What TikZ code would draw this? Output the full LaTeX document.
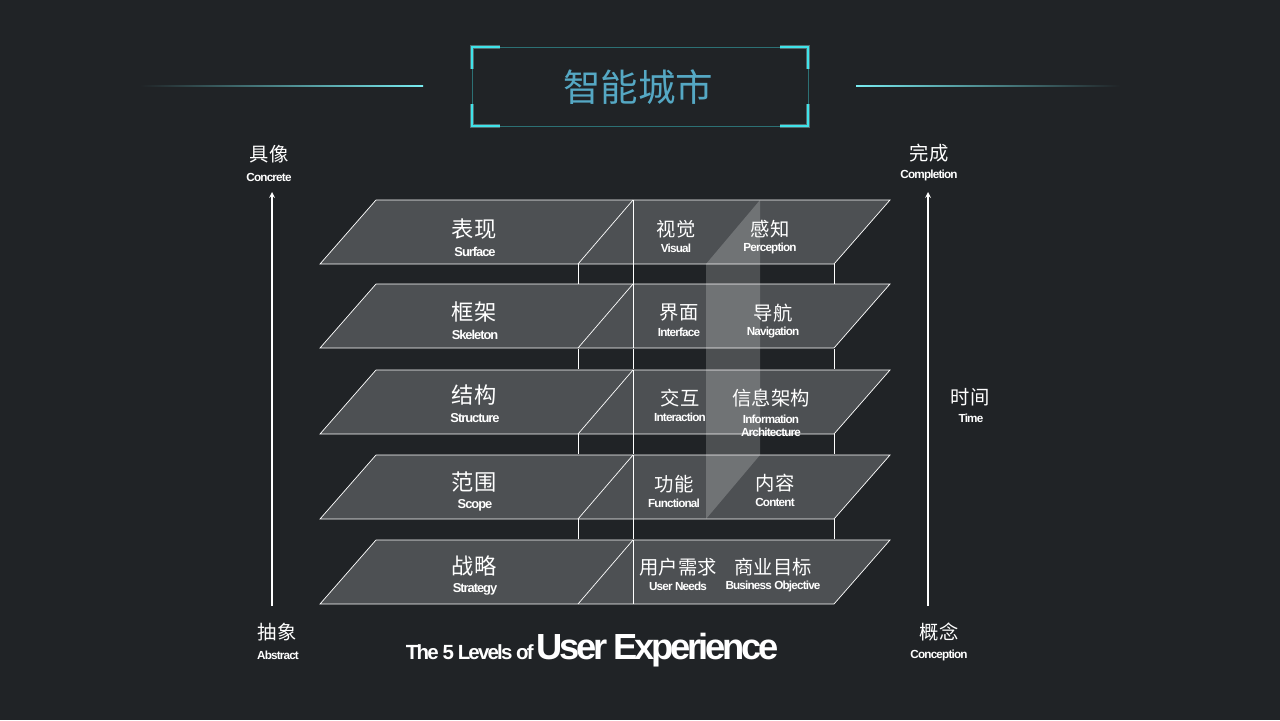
\documentclass[tikz,border=0pt]{standalone}
\usepackage{fontspec}
\setmainfont{Liberation Sans}
\newfontfamily\cjk{Noto Sans CJK SC}
\begin{document}
\begin{tikzpicture}[x=0.03cm,y=-0.03cm,
  cn/.style={font=\cjk\fontsize{16.5}{17}\selectfont,text=white,inner sep=0pt},
  en/.style={font=\bfseries\fontsize{10}{10}\selectfont\addfontfeature{LetterSpace=-7},text=white,inner sep=0pt},
  ln/.style={draw=white,line width=0.6pt}]
\definecolor{bg}{HTML}{202326}
\definecolor{cy}{HTML}{3FE3EA}
\definecolor{tt}{HTML}{55A8C4}
\definecolor{lf}{HTML}{4D5053}
\fill[bg] (0,0) rectangle (1280,720);
\useasboundingbox (0,0) rectangle (1280,720);
% title
\shade[left color=bg,right color=cy!70] (140,85.5) rectangle (423,86.5);
\shade[left color=cy!70,right color=bg] (856,85.5) rectangle (1120,86.5);
\draw[cy!40!bg,line width=0.5pt] (472,47) rectangle (808,126);
\foreach \sx/\sy in {1/1,-1/1,1/-1,-1/-1}{
  \begin{scope}[shift={({640-168*\sx},{86.5-39.5*\sy})}]
  \draw[cy!40,line width=3.5pt,opacity=0.35] (0,{22*\sy}) -- (0,0) -- ({28*\sx},0);
  \draw[cy,line width=1.8pt] (0,{22*\sy}) -- (0,0) -- ({28*\sx},0);
  \end{scope}}
\node[font=\cjk\fontsize{32}{33}\selectfont,text=tt,inner sep=0pt] (title) at (638,87) {智能城市};
% layers
\foreach \t/\i in {200/1,284/2,370/3,455/4,540/5}{
  \pgfmathsetmacro\b{\t+64}
  \fill[lf] (320,\b) -- (376,\t) -- (890,\t) -- (834,\b) -- cycle;
  \draw[ln] (320,\b) -- (376,\t) -- (890,\t) -- (834,\b) -- cycle;
  \draw[ln] (578,\b) -- (633,\t);
  \draw[ln] (633,\t) -- (633,\b);
}
\foreach \t in {264,349,434,519}{
  \pgfmathsetmacro\n{\t+20}
  \draw[ln] (578,\t) -- (578,\n);
  \draw[ln] (633,\t) -- (633,\n);
  \draw[ln] (834,\t) -- (834,\n);
}
\fill[white,opacity=0.2] (706,264) -- (760,200) -- (760,455) -- (706,519) -- cycle;
% left labels
\foreach \y/\c/\e in {229/表现/Surface,312/框架/Skeleton,395/结构/Structure,482/范围/Scope,566/战略/Strategy}{
  \node[cn,font=\cjk\fontsize{19}{20}\selectfont] at (474,\y) {\c};
  \node[en,font=\bfseries\fontsize{11}{11}\selectfont\addfontfeature{LetterSpace=-8}] at (475,\y+23) {\e};
}
\foreach \x/\y/\c/\e in {676/229/视觉/Visual,770/229/感知/Perception,679/313/界面/Interface,773/313/导航/Navigation,680/398/交互/Interaction,674/484/功能/Functional,775/483/内容/Content,678/567/用户需求/User Needs,773/567/商业目标/Business Objective}{
  \node[cn] at (\x,\y) {\c};
  \node[en] at (\x,\y+19) {\e};
}
\node[cn] at (771,398) {信息架构};
\node[en,align=center,font=\bfseries\fontsize{10}{11.5}\selectfont\addfontfeature{LetterSpace=-7}] at (771,426) {Information\\Architecture};
% side arrows
\node[cn] (conc) at (269,154) {具像};
\node[en] at (269,177) {Concrete};
\node[cn] (abs) at (277,632) {抽象};
\node[en] at (278,655) {Abstract};
\node[cn] (comp) at (929,153) {完成};
\node[en] at (929,175) {Completion};
\node[cn] (conp) at (939,632) {概念};
\node[en] at (939,655) {Conception};
\node[cn] at (970,397) {时间};
\node[en] at (971,418) {Time};
\coordinate (la) at (272,606); \coordinate (lb) at (272,192);
\coordinate (ra) at (928,606); \coordinate (rb) at (928,192);
\draw[white,line width=1.2pt,-stealth] (la) -- (lb);
\draw[white,line width=1.2pt,-stealth] (ra) -- (rb);
% bottom title
\node[text=white,inner sep=0pt,anchor=base east,font=\bfseries\fontsize{17.5}{18}\selectfont\addfontfeature{LetterSpace=-9}] at (534,659) {The 5 Levels of};
\node[text=white,inner sep=0pt,anchor=base west,font=\bfseries\fontsize{31}{32}\selectfont\addfontfeature{LetterSpace=-9}] at (536,659) {User Experience};
\end{tikzpicture}
\end{document}
